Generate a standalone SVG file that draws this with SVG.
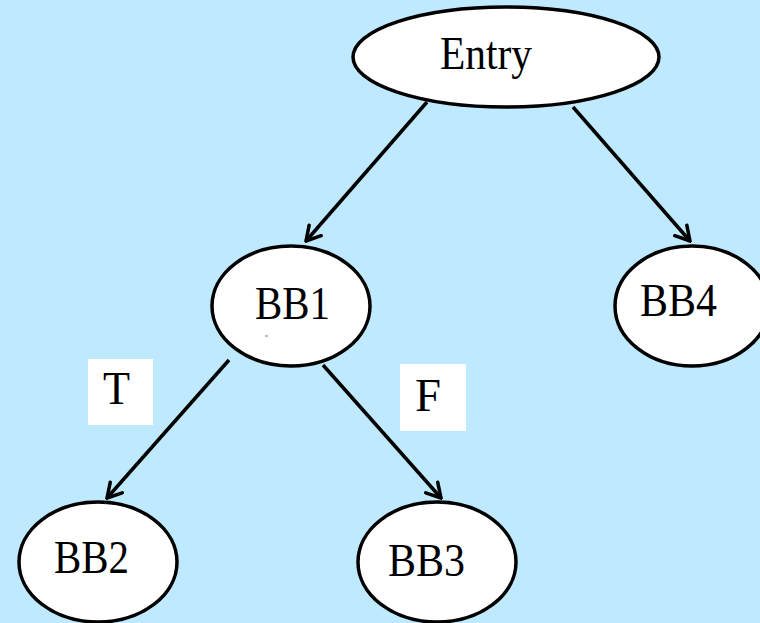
<svg xmlns="http://www.w3.org/2000/svg" width="760" height="623" viewBox="0 0 760 623">
  <style>
    .node { fill: #ffffff; stroke: #000000; stroke-width: 3.5; }
    .label { font-family: "Liberation Serif", "DejaVu Serif", serif; font-size: 46px; fill: #000000; }
    .edge { stroke: #000000; stroke-width: 3.5; fill: none; marker-end: url(#arrow); }
    .tag { fill: #ffffff; }
  </style>
  <defs>
    <marker id="arrow" viewBox="0 0 20 20" refX="18" refY="10" markerWidth="20" markerHeight="20" markerUnits="userSpaceOnUse" orient="auto">
      <path d="M4,2 L18,10 L4,18" fill="none" stroke="#000000" stroke-width="3.5" stroke-linecap="round" stroke-linejoin="miter"/>
    </marker>
  </defs>
  <rect width="760" height="623" fill="#bfe9fe"/>

  <g id="edges">
    <line class="edge" x1="427" y1="102" x2="306" y2="241"/>
    <line class="edge" x1="573" y1="107" x2="690" y2="241"/>
    <line class="edge" x1="229" y1="360" x2="107" y2="498"/>
    <line class="edge" x1="323" y1="365" x2="441" y2="498"/>
  </g>

  <g id="edge-label-T">
    <rect class="tag" x="88" y="359" width="65" height="66"/>
    <text class="label" x="103" y="404" textLength="27" lengthAdjust="spacingAndGlyphs">T</text>
  </g>
  <g id="edge-label-F">
    <rect class="tag" x="400" y="364" width="66" height="67"/>
    <text class="label" x="415" y="411" textLength="26" lengthAdjust="spacingAndGlyphs">F</text>
  </g>

  <g id="node-entry">
    <ellipse class="node" cx="506" cy="57" rx="153" ry="50"/>
    <text class="label" x="440" y="69" textLength="92" lengthAdjust="spacingAndGlyphs">Entry</text>
  </g>
  <g id="node-bb1">
    <ellipse class="node" cx="291" cy="306" rx="79" ry="60"/>
    <text class="label" x="255" y="319" textLength="75" lengthAdjust="spacingAndGlyphs">BB1</text>
    <line x1="265" y1="336" x2="268" y2="336" stroke="#777777" stroke-width="1"/>
  </g>
  <g id="node-bb4">
    <ellipse class="node" cx="692" cy="306" rx="77" ry="60"/>
    <text class="label" x="640" y="316" textLength="77" lengthAdjust="spacingAndGlyphs">BB4</text>
  </g>
  <g id="node-bb2">
    <ellipse class="node" cx="98" cy="562" rx="79" ry="60"/>
    <text class="label" x="54" y="573" textLength="75" lengthAdjust="spacingAndGlyphs">BB2</text>
  </g>
  <g id="node-bb3">
    <ellipse class="node" cx="437" cy="562" rx="79" ry="60"/>
    <text class="label" x="388" y="576" textLength="77" lengthAdjust="spacingAndGlyphs">BB3</text>
  </g>
</svg>
